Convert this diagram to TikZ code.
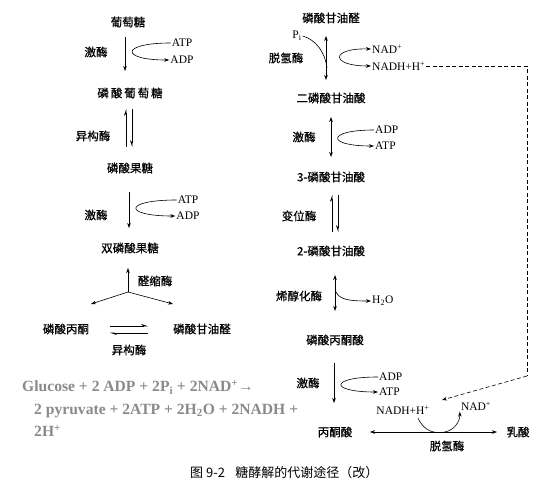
\documentclass[tikz,border=0pt]{standalone}
\usepackage{fontspec}
\setmainfont{Liberation Serif}
\newfontfamily\cjk[FakeBold=0.6]{Noto Sans CJK SC}
\newfontfamily\cjkcap{Noto Sans CJK SC}
\usetikzlibrary{arrows.meta}
\begin{document}
\begin{tikzpicture}[x=1pt,y=-1pt,
  cn/.style={font=\cjk\fontsize{11.5}{13}\selectfont, inner sep=1pt},
  en/.style={font=\fontsize{11.5}{13}\selectfont, inner sep=1pt},
  arr/.style={-{Stealth[length=5pt,width=3.6pt]}, line width=0.6pt},
  darr/.style={{Stealth[length=5pt,width=3.6pt]}-{Stealth[length=5pt,width=3.6pt]}, line width=0.6pt},
  hpa/.style={-{Stealth[harpoon,length=6pt,width=4pt]}, line width=0.6pt},
  hpb/.style={-{Stealth[harpoon,swap,length=6pt,width=4pt]}, line width=0.6pt},
  eq/.style={font=\bfseries\fontsize{15.6}{18}\selectfont, text=black!46, inner sep=0pt, anchor=west},
  dsh/.style={dashed, dash pattern=on 4pt off 2.5pt, line width=0.6pt}
]
\useasboundingbox (0,0) rectangle (538,500);
% ---------- left column ----------
\node[cn] (glc) at (128,22) {葡萄糖};
\node[cn] (k1) at (96,52) {激酶};
\node[en] (atp1) at (182,43) {ATP};
\node[en] (adp1) at (182,60) {ADP};
\node[cn] (g6p) at (130,93) {磷\,酸\,葡\,萄\,糖};
\node[cn] (iso1) at (93,136) {异构酶};
\node[cn] (f6p) at (130,168) {磷酸果糖};
\node[cn] (k2) at (96,215) {激酶};
\node[en] (atp2) at (188,200) {ATP};
\node[en] (adp2) at (188,216) {ADP};
\node[cn] (fbp) at (130,248) {双磷酸果糖};
\node[cn] (ald) at (155,281) {醛缩酶};
\coordinate (c0) at (128,292);
\coordinate (ct) at (128,268);
\coordinate (cl) at (91,304);
\coordinate (cr) at (173,304);
\node[cn] (dhap) at (66,329) {磷酸丙酮};
\node[cn] (gap) at (202,329) {磷酸甘油醛};
\node[cn] (iso2) at (129,350) {异构酶};
\coordinate (e1a) at (110,326); \coordinate (e1b) at (148,326);
\coordinate (e2a) at (110,333); \coordinate (e2b) at (148,333);
\coordinate (a1s) at (125,37); \coordinate (a1e) at (125,71);
\coordinate (h1a) at (126,147); \coordinate (h1b) at (126,109);
\coordinate (h2a) at (132,109); \coordinate (h2b) at (132,147);
\coordinate (a2s) at (129,192); \coordinate (a2e) at (129,228);

\draw[arr] (a1s) -- (a1e);
\draw[arr] (atp1.west) .. controls (120,43) and (120,60) .. (adp1.west);
\draw[hpa] (h1a) -- (h1b);
\draw[hpb] (h2a) -- (h2b);
\draw[arr] (a2s) -- (a2e);
\draw[arr] (atp2.west) .. controls (123,200) and (123,216) .. (adp2.west);
\draw[arr] (c0) -- (ct);
\draw[arr] (c0) -- (cl);
\draw[arr] (c0) -- (cr);
\draw[hpa] (e1a) -- (e1b);
\draw[hpa] (e2b) -- (e2a);

% ---------- right column ----------
\node[cn] (gap2) at (331,18) {磷酸甘油醛};
\node[en] (pi) at (297,36) {P\textsubscript{i}};
\node[cn] (dh1) at (286,58) {脱氢酶};
\node[en, anchor=west] (nad1) at (371,49) {NAD\textsuperscript{+}};
\node[en, anchor=west] (nadh1) at (371,66) {NADH+H\textsuperscript{+}};
\node[cn] (bpg) at (331,98) {二磷酸甘油酸};
\node[cn] (k3) at (304,137) {激酶};
\node[en, anchor=west] (adp3) at (374,130) {ADP};
\node[en, anchor=west] (atp3) at (374,146) {ATP};
\node[cn] (pg3) at (331,177) {3-磷酸甘油酸};
\node[cn] (mut) at (299,216) {变位酶};
\node[cn] (pg2) at (331,251) {2-磷酸甘油酸};
\node[cn] (eno) at (299,296) {烯醇化酶};
\node[en, anchor=west] (h2o) at (371,301) {H\textsubscript{2}O};
\node[cn] (pep) at (335,340) {磷酸丙酮酸};
\node[cn] (k4) at (308,383) {激酶};
\node[en, anchor=west] (adp4) at (378,377) {ADP};
\node[en, anchor=west] (atp4) at (378,392) {ATP};
\node[en] (nadh2) at (403,410) {NADH+H\textsuperscript{+}};
\node[en] (nad2) at (476,406) {NAD\textsuperscript{+}};
\node[cn] (pyr) at (335,432) {丙酮酸};
\node[cn] (lac) at (518,432) {乳酸};
\node[cn] (ldh) at (447,446) {脱氢酶};

\coordinate (r1s) at (326,36); \coordinate (r1e) at (326,80);
\coordinate (r2s) at (331,117); \coordinate (r2e) at (331,157);
\coordinate (h3a) at (332,232); \coordinate (h3b) at (332,195);
\coordinate (h4a) at (338,195); \coordinate (h4b) at (338,232);
\coordinate (r3s) at (335,275); \coordinate (r3e) at (335,311);
\coordinate (r4s) at (334,363); \coordinate (r4e) at (334,403);
\coordinate (lw) at (370,432); \coordinate (le) at (497,432);
\coordinate (d1) at (527,66); \coordinate (d2) at (527,376);
\coordinate (d3) at (442,400);

\draw[darr] (r1s) -- (r1e);
\draw[line width=0.6pt] (pi.east) .. controls (316,40) and (325,52) .. (327,68);
\draw[darr] (nad1.west) .. controls (330,48) and (330,66) .. (nadh1.west);
\draw[darr] (r2s) -- (r2e);
\draw[arr] (adp3.west) .. controls (326,130) and (326,146) .. (atp3.west);
\draw[hpa] (h3a) -- (h3b);
\draw[hpb] (h4a) -- (h4b);
\draw[darr] (r3s) -- (r3e);
\draw[arr] (336,292) .. controls (340,300) and (350,301) .. (h2o.west);
\draw[arr] (r4s) -- (r4e);
\draw[arr] (adp4.west) .. controls (329,377) and (329,392) .. (atp4.west);
\draw[darr] (lw) -- (le);
\draw[arr] (418,418) .. controls (424,432) and (436,434) .. (445,432)
                     .. controls (454,430) and (460,422) .. (nad2.south west);
\draw[dsh] (nadh1.east) -- (d1) -- (d2);
\draw[dsh, -{Stealth[length=5pt,width=3.6pt]}] (d2) -- (d3);

% ---------- equation and caption ----------
\node[eq] (eq1) at (22,387) {Glucose + 2 ADP + 2P\textsubscript{i} + 2NAD\textsuperscript{+}→};
\node[eq] (eq2) at (34,411) {2 pyruvate + 2ATP + 2H\textsubscript{2}O + 2NADH +};
\node[eq] (eq3) at (34,431) {2H\textsuperscript{+}};
\node[font=\cjkcap\fontsize{13}{15}\selectfont, inner sep=0pt, anchor=west] (cap) at (190,473) {图 9-2\hspace{0.8em}糖酵解的代谢途径（改）};
\end{tikzpicture}
\end{document}
